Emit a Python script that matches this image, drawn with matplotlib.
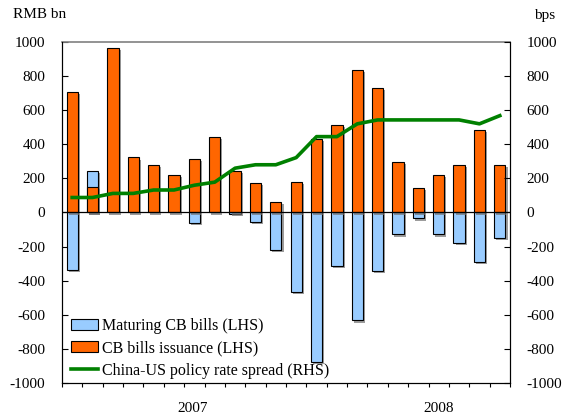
"""China CB bills issuance vs maturing, with China-US policy rate spread."""

import matplotlib.pyplot as plt
import matplotlib.patheffects as pe
from matplotlib.patches import Patch
from matplotlib.lines import Line2D
import numpy as np

# monthly data, Jan 2007 - Oct 2008
months = ["2007-01", "2007-02", "2007-03", "2007-04", "2007-05", "2007-06",
          "2007-07", "2007-08", "2007-09", "2007-10", "2007-11", "2007-12",
          "2008-01", "2008-02", "2008-03", "2008-04", "2008-05", "2008-06",
          "2008-07", "2008-08", "2008-09", "2008-10"]
maturing = [-337, 243, 0, 0, 0, 0, -62, 0, -10, -53, -218, -465,
            -876, -313, -633, -345, -129, -35, -129, -177, -288, -152]
issuance = [705, 152, 967, 323, 280, 218, 313, 441, 241, 171, 60, 181,
            434, 514, 835, 730, 298, 142, 218, 280, 485, 280]
spread = [88, 88, 112, 112, 132, 132, 160, 178, 260, 280, 280, 322,
          445, 445, 520, 543, 543, 543, 543, 543, 520, 568]
years = ["2007", "2008"]
year_pos = [5.9, 18.0]

plt.rcParams["font.family"] = ["Liberation Serif", "DejaVu Serif"]
plt.rcParams["font.size"] = 11
plt.rcParams["axes.unicode_minus"] = False

x = np.arange(len(months))
blue = "#99CCFF"
orange = "#FF6600"
green = "#008000"
shadow = [pe.SimplePatchShadow(offset=(1.5, -1.5), shadow_rgbFace="0.45",
                               alpha=0.7), pe.Normal()]

fig = plt.figure(figsize=(5.66, 4.17), dpi=100)
ax = fig.add_axes([62 / 566, 34 / 417, 448 / 566, 341 / 417])

b1 = ax.bar(x, maturing, width=0.55, color=blue, edgecolor="black",
            linewidth=0.8, zorder=2)
b2 = ax.bar(x, issuance, width=0.55, color=orange, edgecolor="black",
            linewidth=0.8, zorder=3)
for p, v in zip(list(b1) + list(b2), maturing + issuance):
    if v == 0:
        p.set_visible(False)
    else:
        p.set_path_effects(shadow)
ax.axhline(0, color="black", linewidth=0.9, zorder=4)

ax.set_xlim(-0.5, len(months) - 0.5)
ax.set_ylim(-1000, 1000)
ax.set_yticks(np.arange(-1000, 1001, 200))
ax.tick_params(axis="y", direction="in", length=4, pad=12)
ax.set_xticks(np.arange(-0.5, len(months), 1.0))
ax.set_xticklabels([])
ax.tick_params(axis="x", direction="out", length=3)
ax.set_xticks([11.5], minor=True)
ax.tick_params(axis="x", which="minor", direction="inout", length=8)
for lab, pos in zip(years, year_pos):
    ax.text(pos, -1110, lab, ha="center", va="top", transform=ax.transData)
ax.spines["top"].set_color("0.5")
ax.spines["top"].set_linewidth(1.2)

ax2 = ax.twinx()
ax2.plot(x, spread, color=green, linewidth=2.6, zorder=5)
ax2.set_ylim(-1000, 1000)
ax2.set_yticks(np.arange(-1000, 1001, 200))
ax2.tick_params(axis="y", direction="in", length=4, pad=12)
ax2.spines["top"].set_visible(False)

fig.text(13 / 566, 1 - 15 / 417, "RMB bn", ha="left", va="center")
fig.text(555 / 566, 1 - 15 / 417, "bps", ha="right", va="center")

handles = [Patch(facecolor=blue, edgecolor="black", linewidth=0.8),
           Patch(facecolor=orange, edgecolor="black", linewidth=0.8),
           Line2D([], [], color=green, linewidth=2.6)]
labels = ["Maturing CB bills (LHS)", "CB bills issuance (LHS)",
          "China-US policy rate spread (RHS)"]
ax2.legend(handles, labels, loc="lower left", frameon=False, fontsize=11.5,
           bbox_to_anchor=(-0.005, -0.02), handlelength=1.7,
           handletextpad=0.25, labelspacing=0.4, borderaxespad=0.3)

fig.savefig("out.png", dpi=100)
